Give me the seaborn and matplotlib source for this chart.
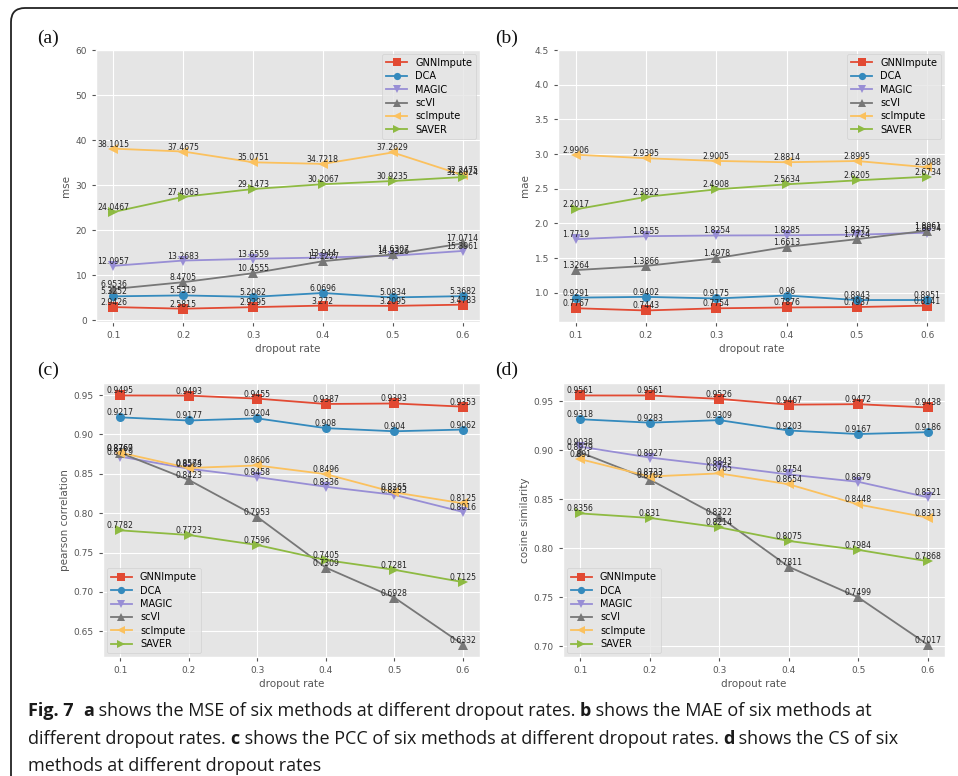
import matplotlib
matplotlib.use("Agg")
import matplotlib.pyplot as plt
import seaborn as sns
from matplotlib.patches import FancyBboxPatch
from matplotlib import font_manager

# ---------------- data ----------------
rates = [0.1, 0.2, 0.3, 0.4, 0.5, 0.6]
methods = ["GNNImpute", "DCA", "MAGIC", "scVI", "scImpute", "SAVER"]

mse_gnnimpute = [2.9426, 2.5815, 2.9295, 3.272, 3.2095, 3.4783]
mse_dca = [5.3252, 5.5319, 5.2062, 6.0696, 5.0834, 5.3682]
mse_magic = [12.0957, 13.2683, 13.6559, 13.944, 14.3326, 15.3961]
mse_scvi = [6.9536, 8.4705, 10.4555, 13.1227, 14.6307, 17.0714]
mse_scimpute = [38.1015, 37.4675, 35.0751, 34.7218, 37.2629, 32.2475]
mse_saver = [24.0467, 27.4063, 29.1473, 30.2067, 30.9235, 31.8024]

mae_gnnimpute = [0.7767, 0.7443, 0.7754, 0.7876, 0.7937, 0.8141]
mae_dca = [0.9291, 0.9402, 0.9175, 0.96, 0.8943, 0.8951]
mae_magic = [1.7719, 1.8155, 1.8254, 1.8285, 1.8375, 1.8654]
mae_scvi = [1.3264, 1.3866, 1.4978, 1.6613, 1.7724, 1.8961]
mae_scimpute = [2.9906, 2.9395, 2.9005, 2.8814, 2.8995, 2.8088]
mae_saver = [2.2017, 2.3822, 2.4908, 2.5634, 2.6205, 2.6734]

pcc_gnnimpute = [0.9495, 0.9493, 0.9455, 0.9387, 0.9393, 0.9353]
pcc_dca = [0.9217, 0.9177, 0.9204, 0.908, 0.904, 0.9062]
pcc_magic = [0.8719, 0.8565, 0.8458, 0.8336, 0.8233, 0.8016]
pcc_scvi = [0.8767, 0.8423, 0.7953, 0.7309, 0.6928, 0.6332]
pcc_scimpute = [0.8769, 0.8574, 0.8606, 0.8496, 0.8265, 0.8125]
pcc_saver = [0.7782, 0.7723, 0.7596, 0.7405, 0.7281, 0.7125]

cs_gnnimpute = [0.9561, 0.9561, 0.9526, 0.9467, 0.9472, 0.9438]
cs_dca = [0.9318, 0.9283, 0.9309, 0.9203, 0.9167, 0.9186]
cs_magic = [0.9038, 0.8927, 0.8843, 0.8754, 0.8679, 0.8521]
cs_scvi = [0.8979, 0.8702, 0.8322, 0.7811, 0.7499, 0.7017]
cs_scimpute = [0.891, 0.8733, 0.8765, 0.8654, 0.8448, 0.8313]
cs_saver = [0.8356, 0.831, 0.8214, 0.8075, 0.7984, 0.7868]

panel_labels = ["(a)", "(b)", "(c)", "(d)"]
ylabels = ["mse", "mae", "pearson correlation", "cosine similarity"]
xlabel = "dropout rate"

# ---------------- style ----------------
plt.style.use("ggplot")
colors = ["#E24A33", "#348ABD", "#988ED5", "#777777", "#FBC15E", "#8EBA42"]
markers = ["s", "o", "v", "^", "<", ">"]

W, H = 958, 776
fig = plt.figure(figsize=(W / 100, H / 100), dpi=100)
fig.patch.set_facecolor("white")


def rect(l, t, r, b):
    return [l / W, 1 - b / H, (r - l) / W, (b - t) / H]


panels = [
    dict(rect=rect(96, 50, 480, 322),
         series=[mse_gnnimpute, mse_dca, mse_magic, mse_scvi, mse_scimpute, mse_saver],
         ylim=(-0.37, 60), loc="upper right", lab=(37, 38)),
    dict(rect=rect(558, 50, 945, 322),
         series=[mae_gnnimpute, mae_dca, mae_magic, mae_scvi, mae_scimpute, mae_saver],
         ylim=(0.578, 4.5), loc="upper right", lab=(495, 38)),
    dict(rect=rect(103, 383, 480, 657),
         series=[pcc_gnnimpute, pcc_dca, pcc_magic, pcc_scvi, pcc_scimpute, pcc_saver],
         ylim=None, loc="lower left", lab=(37, 370)),
    dict(rect=rect(563, 383, 945, 657),
         series=[cs_gnnimpute, cs_dca, cs_magic, cs_scvi, cs_scimpute, cs_saver],
         ylim=None, loc="lower left", lab=(495, 370)),
]

for i, p in enumerate(panels):
    ax = fig.add_axes(p["rect"])
    for name, vals, c, m in zip(methods, p["series"], colors, markers):
        sns.lineplot(x=rates, y=vals, ax=ax, color=c, marker=m, label=name,
                     markersize=6.5, markeredgewidth=0, linewidth=1.3)
        for x, y in zip(rates, vals):
            ax.text(x, y, str(y), ha="center", va="bottom", fontsize=5.6,
                    color="#222222")
    if p["ylim"] is not None:
        ax.set_ylim(*p["ylim"])
    ax.set_xticks(rates)
    ax.set_xticklabels([str(r) for r in rates])
    ax.tick_params(labelsize=6.5, colors="#555555", length=3)
    ax.set_xlabel(xlabel, fontsize=7.5, color="#555555", labelpad=3)
    ax.set_ylabel(ylabels[i], fontsize=7.5, color="#555555", labelpad=3)
    ax.legend(loc=p["loc"], fontsize=7, handlelength=2.2, markerscale=0.8,
              borderaxespad=0.4, labelspacing=0.35)
    lx, ly = p["lab"]
    fig.text(lx / W, 1 - ly / H, panel_labels[i], fontsize=14,
             family=["Liberation Serif", "DejaVu Serif"], ha="left",
             va="center", color="#111111")

# ---------------- frame ----------------
frame = FancyBboxPatch((11, -60), 1100, (H - 8) + 60,
                       boxstyle="round,pad=0,rounding_size=14",
                       transform=None, facecolor="none",
                       edgecolor="#222222", linewidth=1.3, zorder=10)
fig.patches.append(frame)

# ---------------- caption ----------------
avail = {f.name for f in font_manager.fontManager.ttflist}
cap_family = ["Liberation Sans Narrow", "DejaVu Sans"] if "Liberation Sans Narrow" in avail else ["Open Sans", "DejaVu Sans"]
cap_size = 13
renderer = fig.canvas.get_renderer()


def text_width(s, bold):
    kw = dict(fontsize=cap_size, family=cap_family,
              fontweight="bold" if bold else "normal")
    t1 = fig.text(0, 0, "|" + s + "|", **kw)
    t2 = fig.text(0, 0, "||", **kw)
    w = t1.get_window_extent(renderer).width - t2.get_window_extent(renderer).width
    t1.remove(); t2.remove()
    return w


caption_lines = [
    [("Fig. 7", True), ("  ", False), ("a", True),
     (" shows the MSE of six methods at different dropout rates. ", False),
     ("b", True), (" shows the MAE of six methods at", False)],
    [("different dropout rates. ", False), ("c", True),
     (" shows the PCC of six methods at different dropout rates. ", False),
     ("d", True), (" shows the CS of six", False)],
    [("methods at different dropout rates", False)],
]
baselines = [716, 744, 771]
for line, yb in zip(caption_lines, baselines):
    x = 28.0
    for s, bold in line:
        fig.text(x / W, 1 - yb / H, s, fontsize=cap_size, family=cap_family,
                 fontweight="bold" if bold else "normal", ha="left",
                 va="baseline", color="#1a1a1a")
        x += text_width(s, bold)

fig.savefig("out.png", dpi=100)
